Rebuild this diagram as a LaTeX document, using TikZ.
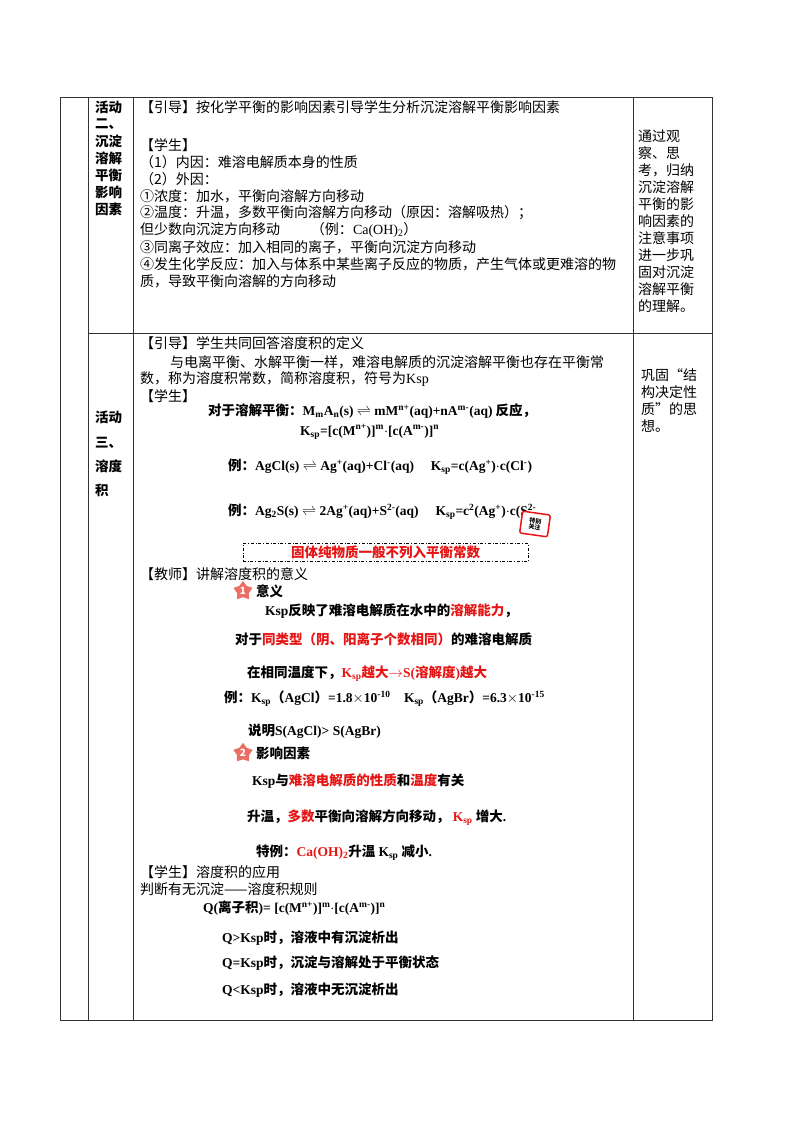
\documentclass[tikz,border=0pt]{standalone}
\usepackage{fontspec}
\setmainfont{Noto Sans CJK SC}
\newfontfamily\lat{Liberation Serif}
\usetikzlibrary{shapes.geometric}
\definecolor{rd}{RGB}{230,20,20}
\definecolor{badge}{RGB}{235,110,100}
\newcommand{\R}[1]{\textcolor{rd}{#1}}
\begin{document}
\begin{tikzpicture}[x=1pt,y=-1pt,
  t/.style={anchor=west,inner sep=0pt,font=\fontsize{14}{16}\selectfont},
  b/.style={anchor=west,inner sep=0pt,font=\fontsize{13.5}{15}\selectfont\bfseries},
  lc/.style={anchor=west,inner sep=0pt,font=\fontsize{13.5}{15}\selectfont\bfseries},
  grid/.style={line width=0.8pt,black!80},
  badgestar/.style={star,star points=5,star point ratio=1.6,fill=badge,inner sep=0.8pt,minimum size=20pt,text=white,font=\fontsize{10}{10}\selectfont\bfseries}]
\useasboundingbox (0,0) rectangle (800,1132);
% table grid
\draw[grid] (60,97) rectangle (712,1020);
\draw[grid] (88,97) -- (88,1020);
\draw[grid] (133,97) -- (133,1020);
\draw[grid] (633,97) -- (633,1020);
\draw[grid] (88,333) -- (712,333);
% row 1 left
\foreach \s/\y in {活动/107,二、/124,沉淀/141,溶解/158,平衡/175,影响/192,因素/209}
  \node[lc] at (95,\y) {\s};
% row 1 right
\foreach \s/\y in {通过观/136,察、思/153,考，归纳/170,沉淀溶解/187,平衡的影/204,响因素的/221,注意事项/238,进一步巩/255,固对沉淀/272,溶解平衡/289,的理解。/306}
  \node[t] at (638,\y) {\s};
% row 1 middle
\node[t] (a1) at (140,107) {【引导】按化学平衡的影响因素引导学生分析沉淀溶解平衡影响因素};
\node[t] (a2) at (140,145) {【学生】};
\node[t] (a3) at (140,162) {（1）内因：难溶电解质本身的性质};
\node[t] (a4) at (140,179) {（2）外因：};
\node[t] (a5) at (140,196) {①浓度：加水，平衡向溶解方向移动};
\node[t] (a6) at (140,213) {②温度：升温，多数平衡向溶解方向移动（原因：溶解吸热）；};
\node[t] (a7) at (140,230) {但少数向沉淀方向移动\hspace{2.2em}（例：{\lat Ca(OH)\textsubscript{2}}）};
\node[t] (a8) at (140,247) {③同离子效应：加入相同的离子，平衡向沉淀方向移动};
\node[t] (a9) at (140,264) {④发生化学反应：加入与体系中某些离子反应的物质，产生气体或更难溶的物};
\node[t] (a10) at (140,281) {质，导致平衡向溶解的方向移动};
% row 2 left
\foreach \s/\y in {活动/417,三、/443,溶度/466,积/490}
  \node[lc] at (95,\y) {\s};
% row 2 right
\foreach \s/\y in {巩固“结/375,构决定性/392,质”的思/409,想。/426}
  \node[t] at (641,\y) {\s};
% row 2 middle
\node[t] at (140,343) {【引导】学生共同回答溶度积的定义};
\node[t] at (170,362) {与电离平衡、水解平衡一样，难溶电解质的沉淀溶解平衡也存在平衡常};
\node[t] at (140,379) {数，称为溶度积常数，简称溶度积，符号为{\lat Ksp}};
\node[t] at (140,396) {【学生】};
\node[b] at (208,411) {对于溶解平衡：{\lat M\textsubscript{m}A\textsubscript{n}(s) $\rightleftharpoons$ mM\textsuperscript{n+}(aq)+nA\textsuperscript{m-}(aq)} 反应，};
\node[b] at (300,432) {\lat K\textsubscript{sp}=[c(M\textsuperscript{n+})]\textsuperscript{m}$\cdot$[c(A\textsuperscript{m-})]\textsuperscript{n}};
\node[b] at (228,467) {例：{\lat AgCl(s) $\rightleftharpoons$ Ag\textsuperscript{+}(aq)+Cl\textsuperscript{-}(aq)\quad\ K\textsubscript{sp}=c(Ag\textsuperscript{+})$\cdot$c(Cl\textsuperscript{-})}};
\node[b] at (228,512) {例：{\lat Ag\textsubscript{2}S(s) $\rightleftharpoons$ 2Ag\textsuperscript{+}(aq)+S\textsuperscript{2-}(aq)\quad\ K\textsubscript{sp}=c\textsuperscript{2}(Ag\textsuperscript{+})$\cdot$c(S\textsuperscript{2-}}};
\node[draw=rd,fill=white,line width=1.5pt,rounded corners=2pt,rotate=-8,minimum width=28pt,minimum height=22pt,inner sep=0pt,align=center,font=\fontsize{6}{6.5}\selectfont\bfseries] (tb) at (535,524) {特别\\关注};
\node[draw,dash dot,line width=0.6pt,minimum width=285pt,minimum height=18pt,inner sep=0pt,font=\fontsize{13.5}{15}\selectfont\bfseries,text=rd] (box) at (385.5,552.5) {固体纯物质一般不列入平衡常数};
\node[t] at (140,574) {【教师】讲解溶度积的意义};
\node[badgestar] (s1) at (243,591) {1};
\node[b] at (256,591) {意义};
\node[b] at (265,611) {{\lat Ksp}反映了难溶电解质在水中的\R{溶解能力}，};
\node[b] at (235,639) {对于\R{同类型（阴、阳离子个数相同）}的难溶电解质};
\node[b] at (247,674) {在相同温度下，\R{{\lat K\textsubscript{sp}}越大{\lat$\rightarrow$S(}溶解度{\lat )}越大}};
\node[b] at (224,699) {例：{\lat K\textsubscript{sp}}（{\lat AgCl}）{\lat =1.8$\times$10\textsuperscript{-10}\quad K\textsubscript{sp}}（{\lat AgBr}）{\lat =6.3$\times$10\textsuperscript{-15}}};
\node[b] at (248,731) {说明{\lat S(AgCl)> S(AgBr)}};
\node[badgestar] (s2) at (243,753) {2};
\node[b] at (256,753) {影响因素};
\node[b] at (252,781) {{\lat Ksp}与\R{难溶电解质的性质}和\R{温度}有关};
\node[b] at (247,818) {升温，\R{多数}平衡向溶解方向移动，\ \R{\lat K\textsubscript{sp}} 增大{\lat .}};
\node[b] at (256,853) {特例：\R{\lat Ca(OH)\textsubscript{2}}升温 {\lat K\textsubscript{sp}} 减小{\lat .}};
\node[t] at (140,872) {【学生】溶度积的应用};
\node[t] at (140,889) {判断有无沉淀——溶度积规则};
\node[b] at (203,908) {{\lat Q(}离子积{\lat )= [c(M\textsuperscript{n+})]\textsuperscript{m}$\cdot$[c(A\textsuperscript{m-})]\textsuperscript{n}}};
\node[b] at (222,938) {{\lat Q>Ksp}时，溶液中有沉淀析出};
\node[b] at (222,963) {{\lat Q=Ksp}时，沉淀与溶解处于平衡状态};
\node[b] at (222,990) {{\lat Q<Ksp}时，溶液中无沉淀析出};
\end{tikzpicture}
\end{document}
